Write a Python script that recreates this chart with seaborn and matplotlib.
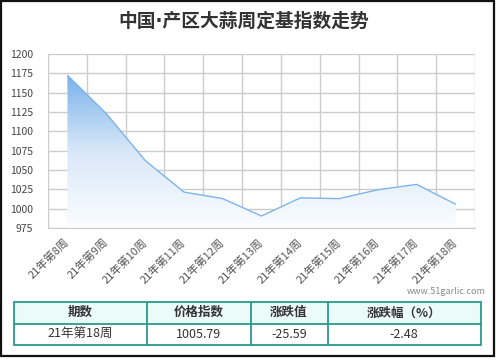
import numpy as np
import pandas as pd
import matplotlib
matplotlib.use("Agg")
import matplotlib.pyplot as plt
import seaborn as sns
from matplotlib.colors import LinearSegmentedColormap
from matplotlib.patches import Rectangle, Polygon

# data
weeks = ["21年第8周", "21年第9周", "21年第10周", "21年第11周", "21年第12周", "21年第13周",
         "21年第14周", "21年第15周", "21年第16周", "21年第17周", "21年第18周"]
index_vals = [1172.5, 1123.0, 1062.5, 1021.5, 1013.0, 990.5, 1014.0, 1013.0, 1024.5, 1031.38, 1005.79]

table_head = ["期数", "价格指数", "涨跌值", "涨跌幅（%）"]
table_row = ["21年第18周", "1005.79", "-25.59", "-2.48"]

sns.set_style("white")
plt.rcParams['font.family'] = ['Noto Sans CJK SC', 'DejaVu Sans']

df = pd.DataFrame({"week": np.arange(len(weeks)), "val": index_vals})

W, H = 496, 360
fig = plt.figure(figsize=(W / 100, H / 100), dpi=100)
fig.patch.set_facecolor("white")

# main chart area in pixel coords
left, right, top, bottom = 48, 475, 54, 228
ax = fig.add_axes([left / W, 1 - bottom / H, (right - left) / W, (bottom - top) / H])

ymin, ymax = 975, 1200
line_col = "#7cb4ec"

# gradient fill under the line
cmap = LinearSegmentedColormap.from_list("g", ["#fbfdff", "#d9e8f9", "#7ab2ea"])
ytop = max(index_vals)
grad = np.linspace(0, 1, 256).reshape(-1, 1)
im = ax.imshow(grad, extent=[0, len(weeks) - 1, ymin, ytop], origin="lower",
               aspect="auto", cmap=cmap, zorder=1)
verts = [(0, ymin)] + list(zip(df["week"], df["val"])) + [(len(weeks) - 1, ymin)]
clip = Polygon(verts, closed=True, transform=ax.transData, facecolor="none", edgecolor="none")
ax.add_patch(clip)
im.set_clip_path(clip)

sns.lineplot(data=df, x="week", y="val", ax=ax, color=line_col, linewidth=1, zorder=3)

ax.set_xlim(-0.5, len(weeks) - 0.5)
ax.set_ylim(ymin, ymax)
ax.set_yticks(np.arange(975, 1201, 25))
ax.set_xticks(np.arange(-0.5, len(weeks), 1))
ax.set_xticklabels([])
ax.set_xticks(np.arange(len(weeks)), minor=True)
ax.set_xticklabels(weeks, minor=True, rotation=45, ha="right", va="center",
                   rotation_mode="anchor", fontsize=8, color="#555555")
ax.tick_params(axis="x", which="major", length=6, color="#cccccc", width=1, direction="out")
ax.tick_params(axis="x", which="minor", length=0, pad=9)
ax.tick_params(axis="y", length=0, pad=11, labelsize=7.5, labelcolor="#444444")
ax.grid(True, color="#cccccc", linewidth=1, zorder=0)
ax.set_axisbelow(True)
for s in ["top", "right", "left"]:
    ax.spines[s].set_visible(False)
ax.spines["bottom"].set_color("#cccccc")
ax.set_xlabel("")
ax.set_ylabel("")

# overlay in pixel coords for title, table, frame
ov = fig.add_axes([0, 0, 1, 1], facecolor="none")
ov.set_xlim(0, W)
ov.set_ylim(H, 0)
ov.axis("off")

ov.text(244, 21, "中国·产区大蒜周定基指数走势", ha="center", va="center",
        fontsize=13.5, fontweight="bold", color="#333333",
        family=["DejaVu Sans", "Noto Sans CJK SC"])
ov.text(486, 292, "www.51garlic.com", ha="right", va="center", fontsize=6.5, color="#888888")

teal = "#2a9a8e"
cols = [14, 147, 250.5, 327.5, 480.5]
rows = [301.5, 324, 345]
ov.add_patch(Rectangle((cols[0], rows[0]), cols[-1] - cols[0], rows[1] - rows[0],
                       facecolor="#ebfbf7", edgecolor="none"))
ov.add_patch(Rectangle((cols[0], rows[0]), cols[-1] - cols[0], rows[2] - rows[0],
                       facecolor="none", edgecolor=teal, linewidth=1.3))
ov.plot([cols[0], cols[-1]], [rows[1], rows[1]], color=teal, linewidth=1.3)
for c in cols[1:-1]:
    ov.plot([c, c], [rows[0], rows[2]], color=teal, linewidth=1.3)
for i in range(4):
    cx = (cols[i] + cols[i + 1]) / 2
    ov.text(cx, (rows[0] + rows[1]) / 2, table_head[i], ha="center", va="center",
            fontsize=9, fontweight="bold", color="#333333")
    ov.text(cx, (rows[1] + rows[2]) / 2, table_row[i], ha="center", va="center",
            fontsize=9, color="#333333")

# outer frame
ov.add_patch(Rectangle((0.8, 0.8), 493.5, 355, facecolor="none", edgecolor="#111111", linewidth=1.6))

fig.savefig("out.png", dpi=100, facecolor="white")
